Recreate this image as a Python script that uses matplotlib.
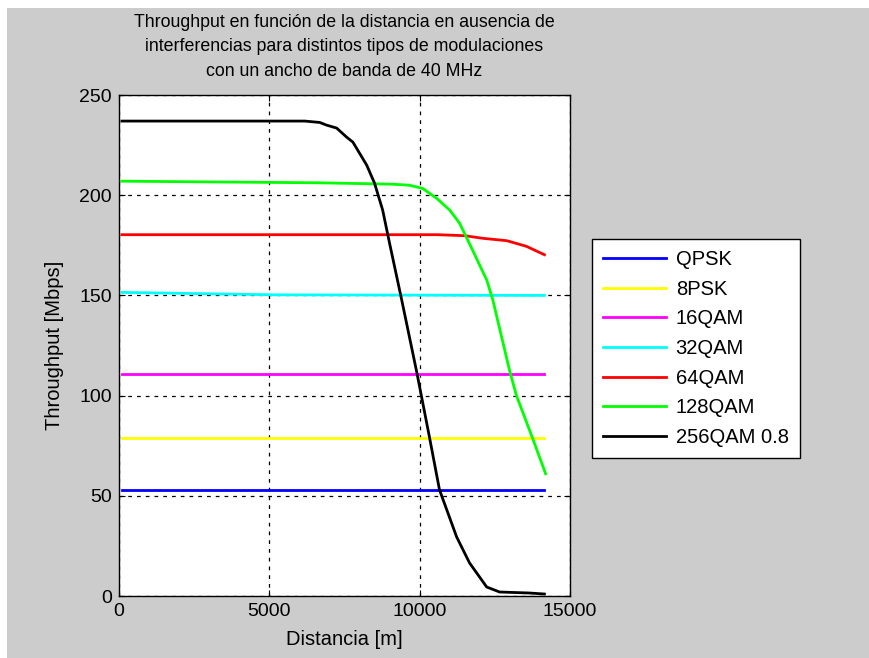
import matplotlib
matplotlib.use('Agg')
import numpy as np
import matplotlib.pyplot as plt
from matplotlib.patches import Rectangle

plt.rcParams['font.family'] = ['Liberation Sans', 'DejaVu Sans']

# distance axis shared by the flat curves
dist_flat = [100, 5200, 14150]
qpsk = [53, 53, 53]
psk8 = [79, 79, 79]
qam16 = [111, 111, 111]
qam32 = [151.5, 150.3, 150]

dist_64 = [100, 10600, 11500, 12100, 12900, 13550, 14150]
qam64 = [180.3, 180.3, 179.8, 178.5, 177.3, 174.5, 170.3]

dist_128 = [100, 6650, 9100, 9650, 10100, 10560, 11000, 11330, 11760,
            12230, 12430, 13000, 13220, 13750, 14190]
qam128 = [207, 206.2, 205.5, 205, 203.4, 198.5, 192.6, 186, 172.6,
          157.7, 148, 112, 100, 79, 61]

dist_256 = [100, 6180, 6680, 6900, 7240, 7570, 7780, 8000, 8240, 8500,
            8770, 9000, 9400, 9900, 10330, 10660, 11230, 11660, 12230,
            12660, 13650, 14150]
qam256 = [237, 237, 236.3, 235, 233.5, 229, 226.5, 221, 215, 206,
          192.6, 176, 148, 112, 79, 53, 29.5, 16.5, 4.5, 2, 1.5, 1]

series = [
    ('QPSK', dist_flat, qpsk, '#0000ff'),
    ('8PSK', dist_flat, psk8, '#ffff00'),
    ('16QAM', dist_flat, qam16, '#ff00ff'),
    ('32QAM', dist_flat, qam32, '#00ffff'),
    ('64QAM', dist_64, qam64, '#ff0000'),
    ('128QAM', dist_128, qam128, '#00ff00'),
    ('256QAM 0.8', dist_256, qam256, '#000000'),
]

fig = plt.figure(figsize=(8.69, 6.58), dpi=100, facecolor='white')
fig.patches.append(Rectangle((7 / 869, 0), 1, 1 - 8 / 658, transform=fig.transFigure,
                             facecolor='#cccccc', edgecolor='none', zorder=-10))

ax = fig.add_axes([0.1369, 0.0942, 0.519, 0.7614])
for name, x, y, c in series:
    ax.plot(x, y, color=c, linewidth=2, label=name)

ax.set_xlim(0, 15000)
ax.set_ylim(0, 250)
ax.set_xticks([0, 5000, 10000, 15000])
ax.set_yticks([0, 50, 100, 150, 200, 250])
ax.tick_params(direction='in', top=True, right=True, labelsize=14, length=4, pad=5)
ax.grid(True, color='black', linestyle=(0, (3, 4)), linewidth=0.9)
for s in ax.spines.values():
    s.set_linewidth(1)

ax.set_xlabel('Distancia [m]', fontsize=14.5, labelpad=7)
ax.set_ylabel('Throughput [Mbps]', fontsize=14.5, labelpad=11)
ax.set_title('Throughput en función de la distancia en ausencia de\n'
             'interferencias para distintos tipos de modulaciones\n'
             'con un ancho de banda de 40 MHz', fontsize=12.8, linespacing=1.55, pad=14)

leg = ax.legend(loc='upper left', bbox_to_anchor=(1.049, 0.7126), fontsize=14.5,
                frameon=True, fancybox=False, edgecolor='black', framealpha=1,
                handlelength=3.1, handletextpad=0.5, labelspacing=0.53,
                borderpad=0.55, borderaxespad=0)
leg.get_frame().set_linewidth(1)

fig.savefig('out.png', dpi=100, facecolor=fig.get_facecolor())
